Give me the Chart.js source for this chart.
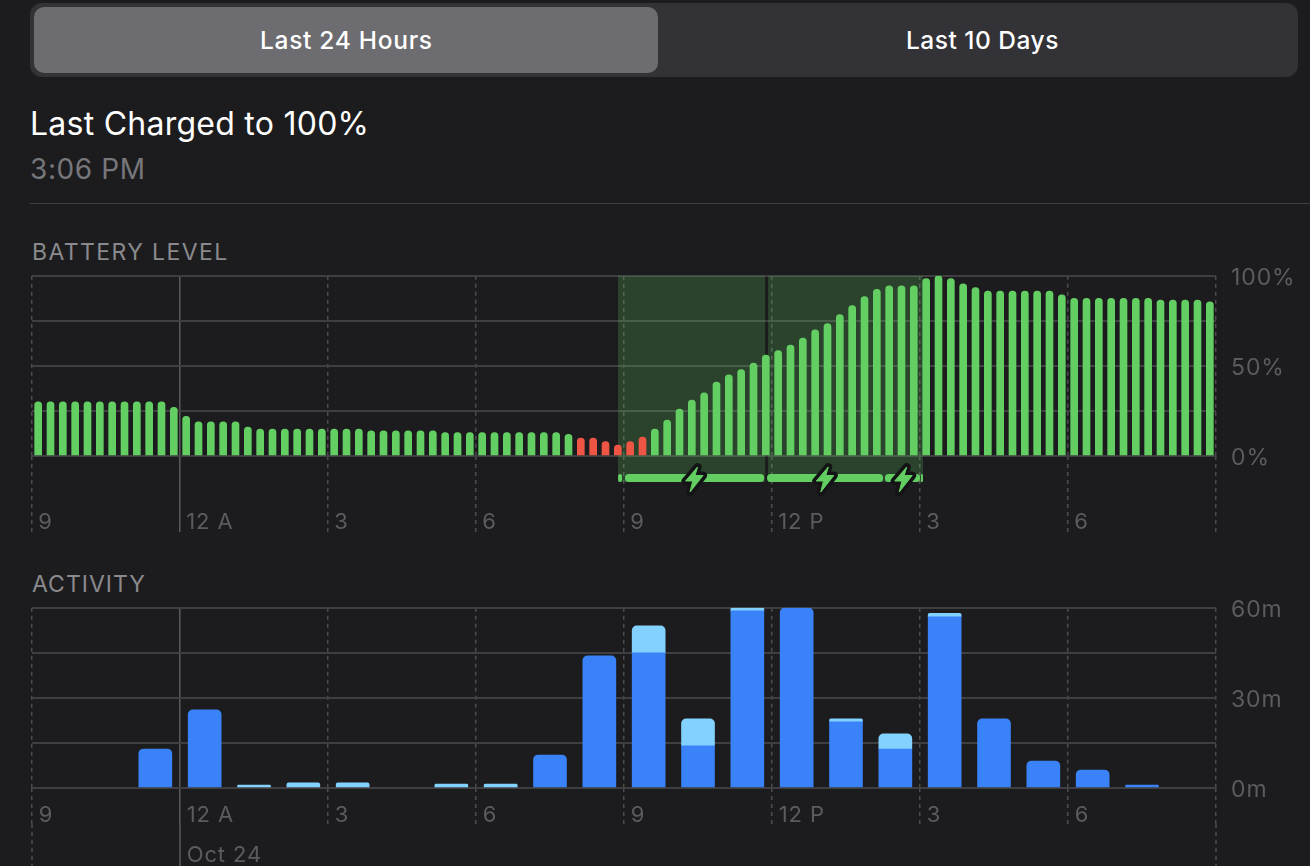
<!DOCTYPE html>
<html>
<head>
<meta charset="utf-8">
<script src="https://cdn.jsdelivr.net/npm/chart.js@4"></script>
<style>
  html, body { margin: 0; padding: 0; background: #1c1c1e; overflow: hidden; }
  body { width: 1310px; height: 866px; position: relative; font-family: Inter, sans-serif; }
  .t { position: absolute; white-space: nowrap; line-height: 1; }
  canvas { position: absolute; left: 0; }
  #seg { position: absolute; left: 30px; top: 3px; width: 1268px; height: 74px; border-radius: 12px; background: #323237; }
  #sel { position: absolute; left: 34px; top: 7px; width: 624px; height: 66px; border-radius: 10px; background: #6c6c71; }
  #rule { position: absolute; left: 30px; top: 203px; width: 1280px; height: 1px; background: #3f3f42; }
</style>
</head>
<body>
<div id="seg"></div>
<div id="sel"></div>
<div class="t" style="left:260px;top:28px;font-size:24.5px;font-weight:500;letter-spacing:.7px;color:#fff">Last 24 Hours</div>
<div class="t" style="left:906px;top:28px;font-size:24.5px;font-weight:500;letter-spacing:.5px;color:#fff">Last 10 Days</div>
<div class="t" style="left:30px;top:108px;font-size:32px;letter-spacing:.25px;color:#fff">Last Charged to 100%</div>
<div class="t" style="left:30px;top:155px;font-size:28px;letter-spacing:.6px;color:#77777b">3:06 PM</div>
<div id="rule"></div>
<div class="t" style="left:32px;top:241px;font-size:23px;letter-spacing:1.4px;color:#8a8a8e">BATTERY LEVEL</div>
<div class="t" style="left:32px;top:573px;font-size:23px;letter-spacing:1px;color:#8a8a8e">ACTIVITY</div>
<canvas id="batteryChart" width="1310" height="293" style="top:247px"></canvas>
<canvas id="activityChart" width="1310" height="287" style="top:579px"></canvas>

<script>
const tickLabels = ["9", "12 A", "3", "6", "9", "12 P", "3", "6"]

// one bar per 15 min, from 9 PM
const batteryLevel = [
  30, 30, 30, 30, 30, 30, 30, 30, 30, 30, 30, 27,
  22, 19, 19, 19, 19, 16, 15, 15, 15, 15, 15, 15,
  15, 15, 15, 14, 14, 14, 14, 14, 14, 13, 13, 13,
  13, 13, 13, 13, 13, 13, 13, 12, 10, 10, 8, 6,
  8, 10.5, 15, 20, 26, 31, 35, 41, 45, 48, 51.5, 56,
  58.5, 61.5, 65.5, 70, 73.5, 78.5, 83.5, 88.5, 92.5, 94.5, 94.5, 94.5,
  98.5, 100, 98.5, 95.5, 93.5, 91.5, 91.5, 91.5, 91.5, 91.5, 91.5, 89.5,
  87.5, 87.5, 87.5, 87.5, 87.5, 87.5, 87.5, 86.5, 86.5, 86.5, 86.5, 85.5,
]

// one bar per hour, minutes
const screenOn = [null, null, 13, 26, null, null, null, null, null, null, 11, 44, 45, 14, 59, 60, 22, 13, 57, 23, 9, 6, 1, null]
const screenOff = [null, null, null, null, 1, 1.7, 1.7, null, 1.3, 1.3, null, null, 9, 9, 1, null, 1, 5, 1.2, null, null, null, null, null]

// hours since 9 PM
const shadeSpans = [[11.88, 14.86], [14.92, 18.06]]
const chargeSpans = [[11.88, 11.96], [12.02, 14.84], [14.9, 17.25], [17.29, 18], [18.02, 18.06]]
const boltHours = [13.42, 16.07, 17.66]

const BG = "#1c1c1e"
const GRID = "#3f3f42"
const DASH = "#4d4d50"
const TICK_TEXT = "#5c5c60"
const GREEN = "#63cf62"
const RED = "#ef5544"
const BLUE = "#3a82f7"
const LIGHT_BLUE = "#82d1ff"
const LOW_LEVEL = 11

function hourToPixel(chart, h) {
  const { left, width } = chart.chartArea
  return left + (h / 24) * width
}

const spacingPlugin = {
  id: "spacing",
  beforeDraw(chart) { chart.ctx.letterSpacing = "0.9px" },
}

const chargePlugin = {
  id: "charge",
  beforeDatasetsDraw(chart) {
    const { ctx, chartArea } = chart
    ctx.save()
    ctx.fillStyle = "rgba(99, 207, 98, 0.22)"
    shadeSpans.forEach(([a, b]) => {
      const x1 = hourToPixel(chart, a)
      const x2 = hourToPixel(chart, b)
      ctx.fillRect(x1, chartArea.top, x2 - x1, chartArea.height + 26)
    })
    ctx.restore()
  },
  afterDatasetsDraw(chart) {
    const { ctx, chartArea } = chart
    const y = chartArea.bottom + 22
    ctx.save()
    ctx.fillStyle = GREEN
    chargeSpans.forEach(([a, b]) => {
      const x1 = hourToPixel(chart, a)
      const x2 = hourToPixel(chart, b)
      ctx.beginPath()
      ctx.roundRect(x1, y - 4, x2 - x1, 8, 3.5)
      ctx.fill()
    })
    boltHours.forEach((h) => {
      const x = hourToPixel(chart, h)
      const by = y + 1
      ctx.beginPath()
      ctx.moveTo(x + 3.5, by - 12)
      ctx.lineTo(x - 8.5, by + 2)
      ctx.lineTo(x - 1.3, by + 2)
      ctx.lineTo(x - 4, by + 13)
      ctx.lineTo(x + 9, by - 3.5)
      ctx.lineTo(x + 1, by - 3.5)
      ctx.closePath()
      ctx.lineJoin = "round"
      ctx.lineWidth = 8
      ctx.strokeStyle = "#141416"
      ctx.stroke()
      ctx.lineWidth = 1
      ctx.strokeStyle = GREEN
      ctx.stroke()
      ctx.fill()
    })
    ctx.restore()
  },
}

// the edge and midnight lines run on to the bottom of the picture
const tailPlugin = {
  id: "tail",
  afterDraw(chart, args, opts) {
    const { ctx, chartArea } = chart
    ctx.save()
    ctx.strokeStyle = DASH
    ctx.lineWidth = 1.5
    ;[0, 3, 24].forEach((h) => {
      const x = hourToPixel(chart, h)
      ctx.setLineDash(h === 3 ? [] : [4, 4])
      ctx.strokeStyle = h === 3 ? "#5a5a5d" : DASH
      ctx.beginPath()
      ctx.moveTo(x, chartArea.bottom + opts.from)
      ctx.lineTo(x, chart.height)
      ctx.stroke()
    })
    ctx.restore()
  },
}

function xAxis(binsPerTick, labelFor, tickLength, padding, lineHeight, labelOffset, height) {
  const isMidnight = (ctx) => ctx.index === binsPerTick
  const isTick = (ctx) => ctx.index === undefined || ctx.index % binsPerTick === 0
  const lineColor = (ctx) => (!isTick(ctx) ? "transparent" : isMidnight(ctx) ? "#5a5a5d" : DASH)
  const dash = (ctx) => (isMidnight(ctx) ? [] : [4, 4])
  return {
    afterFit(scale) { scale.height = height },
    border: { display: false, dash },
    grid: {
      color: lineColor,
      lineWidth: 1.5,
      tickColor: lineColor,
      tickWidth: 1.5,
      tickLength,
      tickBorderDash: dash,
    },
    ticks: {
      autoSkip: false,
      maxRotation: 0,
      align: "start",
      padding,
      labelOffset,
      color: TICK_TEXT,
      font: { family: "Inter", size: 22, lineHeight },
      callback(value, index) { return labelFor(index) },
    },
  }
}

function yAxis(max, step, format) {
  return {
    position: "right",
    min: 0,
    max,
    afterFit(scale) { scale.width = 94 },
    border: { display: false },
    grid: { color: GRID, lineWidth: 2, drawTicks: false },
    ticks: {
      stepSize: step,
      padding: 15,
      labelOffset: 2,
      color: TICK_TEXT,
      font: { family: "Inter", size: 23 },
      callback(value) { return value % (step * 2) === 0 ? format(value) : "" },
    },
  }
}

new Chart(document.getElementById("batteryChart"), {
  type: "bar",
  data: {
    labels: batteryLevel.map((v, i) => i),
    datasets: [{
      data: batteryLevel,
      backgroundColor: (ctx) => (ctx.raw <= LOW_LEVEL ? RED : GREEN),
      barThickness: 7,
      borderRadius: { topLeft: 3.5, topRight: 3.5 },
      borderSkipped: false,
    }],
  },
  options: {
    responsive: false,
    animation: false,
    layout: { padding: { left: 32, top: 20 } },
    plugins: { legend: { display: false }, tooltip: { enabled: false } },
    scales: {
      x: xAxis(12, (i) => (i % 12 === 0 ? tickLabels[i / 12] : ""), 76, -23, 1.2, 0, 84),
      y: yAxis(100, 25, (v) => v + "%"),
    },
  },
  plugins: [spacingPlugin, chargePlugin],
})

new Chart(document.getElementById("activityChart"), {
  type: "bar",
  data: {
    labels: screenOn.map((v, i) => i),
    datasets: [
      {
        data: screenOn,
        stack: "a",
        backgroundColor: BLUE,
        barThickness: 33,
        borderRadius: (ctx) => {
          const r = screenOff[ctx.dataIndex] > 0 ? 0 : 5
          return { topLeft: r, topRight: r }
        },
        borderSkipped: false,
      },
      {
        data: screenOff,
        stack: "a",
        backgroundColor: LIGHT_BLUE,
        barThickness: 33,
        borderRadius: { topLeft: 5, topRight: 5 },
        borderSkipped: false,
      },
    ],
  },
  options: {
    responsive: false,
    animation: false,
    layout: { padding: { left: 32, top: 20 } },
    plugins: { legend: { display: false }, tooltip: { enabled: false }, tail: { from: 36 } },
    scales: {
      x: {
        ...xAxis(3, (i) => {
          if (i % 3 !== 0) return ""
          return i === 3 ? [tickLabels[1], "Oct 24"] : tickLabels[i / 3]
        }, 36, -29, "40px", -18, 78),
        stacked: true,
      },
      y: { ...yAxis(60, 15, (v) => v + "m"), stacked: true },
    },
  },
  plugins: [spacingPlugin, tailPlugin],
})
</script>
</body>
</html>
